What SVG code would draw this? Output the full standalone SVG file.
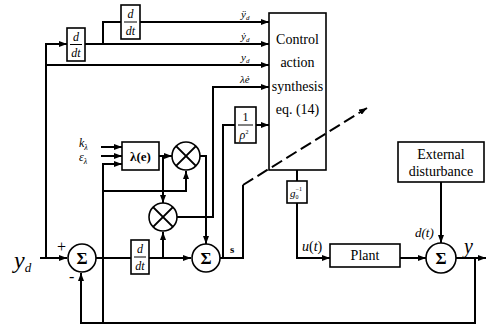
<svg xmlns="http://www.w3.org/2000/svg" width="486" height="327" viewBox="0 0 486 327">
<style>
.ln{fill:none;stroke:#000;stroke-width:2}
.bx{fill:#fff;stroke:#000;stroke-width:1.6}
.t{font-family:"Liberation Serif",serif;fill:#000}
.i{font-style:italic}
</style>
<defs>
<marker id="ah" markerWidth="8" markerHeight="6" refX="8" refY="3" orient="auto" markerUnits="userSpaceOnUse">
<path d="M0,0 L8,3 L0,6 z" fill="#000"/>
</marker>
</defs>
<rect width="486" height="327" fill="#fff"/>
<g id="connectors">
<path class="ln" d="M40,258 H67" marker-end="url(#ah)"/>
<path class="ln" d="M46,258 V44 H67" marker-end="url(#ah)"/>
<path class="ln" d="M46,65 H269" marker-end="url(#ah)"/>
<path class="ln" d="M85,44 H269" marker-end="url(#ah)"/>
<path class="ln" d="M103,44 V22 H121"/>
<path class="ln" d="M140,22 H269" marker-end="url(#ah)"/>
<path class="ln" d="M96,258 H131"/>
<path class="ln" d="M149,258 H191" marker-end="url(#ah)"/>
<path class="ln" d="M163,258 V232" marker-end="url(#ah)"/>
<path class="ln" d="M103,323 V164 H122" marker-end="url(#ah)"/>
<path class="ln" d="M103,191 H186 V171" marker-end="url(#ah)"/>
<path class="ln" d="M101,147 H122" marker-end="url(#ah)"/>
<path class="ln" d="M101,156 H122" marker-end="url(#ah)"/>
<path class="ln" d="M159,156 H172" marker-end="url(#ah)"/>
<path class="ln" d="M163,156 V203" marker-end="url(#ah)"/>
<path class="ln" d="M200,156 H206 V244" marker-end="url(#ah)"/>
<path class="ln" d="M177,217 H213 V87 H269" marker-end="url(#ah)"/>
<path class="ln" d="M220,258 H243 V185"/>
<path class="ln" d="M223,258 V125 H235"/>
<path class="ln" d="M256,125 H269" marker-end="url(#ah)"/>
<path class="ln" d="M297,170 V181"/>
<path class="ln" d="M297,203 V258 H330" marker-end="url(#ah)"/>
<path class="ln" d="M400,258 H426" marker-end="url(#ah)"/>
<path class="ln" d="M441,182 V243" marker-end="url(#ah)"/>
<path class="ln" d="M456,258 H486" marker-end="url(#ah)"/>
<path class="ln" d="M475,258 V323 H81 V273" marker-end="url(#ah)"/>
</g>
<g id="labels">
<text class="t i" x="14" y="268" font-size="24">y<tspan font-size="13" dy="4">d</tspan></text>
<text class="t" x="57" y="252" font-size="16">+</text>
<text class="t" x="69" y="282" font-size="16">-</text>
<text class="t i" x="79" y="147" font-size="12">k<tspan font-size="8" dy="3">λ</tspan></text>
<text class="t i" x="79" y="161" font-size="12">ε<tspan font-size="8" dy="3">λ</tspan></text>
<text class="t i" x="241" y="18" font-size="11">ÿ<tspan font-size="7" dy="2">d</tspan></text>
<text class="t i" x="241" y="40" font-size="11">ẏ<tspan font-size="7" dy="2">d</tspan></text>
<text class="t i" x="241" y="61" font-size="11">y<tspan font-size="7" dy="2">d</tspan></text>
<text class="t i" x="240" y="83" font-size="11">λė</text>
<text class="t" x="230" y="253" font-size="11" font-weight="bold">s</text>
<text class="t i" x="302" y="251" font-size="14">u<tspan font-style="normal">(</tspan>t<tspan font-style="normal">)</tspan></text>
<text class="t i" x="415" y="237" font-size="13">d(t)</text>
<text class="t i" x="464" y="253" font-size="20">y</text>
</g>
<g id="ddt1">
<rect class="bx" x="67" y="28" width="18" height="33"/>
<text class="t i" x="76" y="41" font-size="12" text-anchor="middle">d</text>
<line x1="70" y1="44.5" x2="82" y2="44.5" stroke="#000" stroke-width="1"/>
<text class="t i" x="76" y="57" font-size="12" text-anchor="middle">dt</text>
</g>
<g id="ddt2">
<rect class="bx" x="121" y="5" width="19" height="34"/>
<text class="t i" x="130.5" y="18" font-size="12" text-anchor="middle">d</text>
<line x1="124" y1="22" x2="137" y2="22" stroke="#000" stroke-width="1"/>
<text class="t i" x="130.5" y="35" font-size="12" text-anchor="middle">dt</text>
</g>
<g id="ddt3">
<rect class="bx" x="131" y="240" width="18" height="34"/>
<text class="t i" x="140" y="253" font-size="12" text-anchor="middle">d</text>
<line x1="134" y1="257" x2="146" y2="257" stroke="#000" stroke-width="1"/>
<text class="t i" x="140" y="270" font-size="12" text-anchor="middle">dt</text>
</g>
<g id="sum1">
<circle class="bx" cx="82" cy="258" r="14" stroke-width="2"/>
<text class="t" x="82" y="264" font-size="17" font-weight="bold" text-anchor="middle">Σ</text>
</g>
<g id="sum2">
<circle class="bx" cx="206" cy="258" r="14" stroke-width="2"/>
<text class="t" x="206" y="264" font-size="17" font-weight="bold" text-anchor="middle">Σ</text>
</g>
<g id="sum3">
<circle class="bx" cx="441" cy="258" r="15" stroke-width="2"/>
<text class="t" x="441" y="264" font-size="17" font-weight="bold" text-anchor="middle">Σ</text>
</g>
<g id="lambda">
<rect class="bx" x="122" y="142" width="37" height="28"/>
<text class="t" x="140.5" y="161" font-size="13" font-weight="bold" text-anchor="middle">λ(e)</text>
</g>
<g id="mult1">
<circle class="bx" cx="186" cy="156" r="14" stroke-width="2"/>
<path class="ln" d="M176.1,146.1 L195.9,165.9 M195.9,146.1 L176.1,165.9"/>
</g>
<g id="mult2">
<circle class="bx" cx="163" cy="217" r="14" stroke-width="2"/>
<path class="ln" d="M153.1,207.1 L172.9,226.9 M172.9,207.1 L153.1,226.9"/>
</g>
<g id="rho">
<rect class="bx" x="235" y="107" width="21" height="36"/>
<text class="t" x="245.5" y="121" font-size="12" text-anchor="middle">1</text>
<line x1="238" y1="125" x2="253" y2="125" stroke="#000" stroke-width="1"/>
<text class="t i" x="244" y="139" font-size="12" text-anchor="middle">ρ<tspan font-size="6" dy="-5" font-style="normal">2</tspan></text>
</g>
<g id="control">
<rect class="bx" x="269" y="13" width="57" height="157"/>
<text class="t" x="297.5" y="44" font-size="14" text-anchor="middle">Control</text>
<text class="t" x="297.5" y="67" font-size="14" text-anchor="middle">action</text>
<text class="t" x="297.5" y="91" font-size="14" text-anchor="middle">synthesis</text>
<text class="t" x="297.5" y="114" font-size="14" text-anchor="middle">eq. (14)</text>
</g>
<g id="g0">
<rect class="bx" x="287" y="181" width="20" height="22"/>
<text class="t i" x="290" y="197" font-size="11">g<tspan font-size="6" dy="2" font-style="normal">0</tspan><tspan font-size="6" dy="-8" dx="-3" font-style="normal">−1</tspan></text>
</g>
<g id="plant">
<rect class="bx" x="330" y="244" width="70" height="23"/>
<text class="t" x="365" y="260" font-size="14" text-anchor="middle">Plant</text>
</g>
<g id="disturbance">
<rect class="bx" x="398" y="142" width="86" height="40"/>
<text class="t" x="441" y="159" font-size="14" text-anchor="middle">External</text>
<text class="t" x="441" y="176" font-size="14" text-anchor="middle">disturbance</text>
</g>
<g id="adaptation-arrow">
<path class="ln" d="M243,185 L367,108" stroke-dasharray="12,5" marker-end="url(#ah)"/>
</g>
</svg>
